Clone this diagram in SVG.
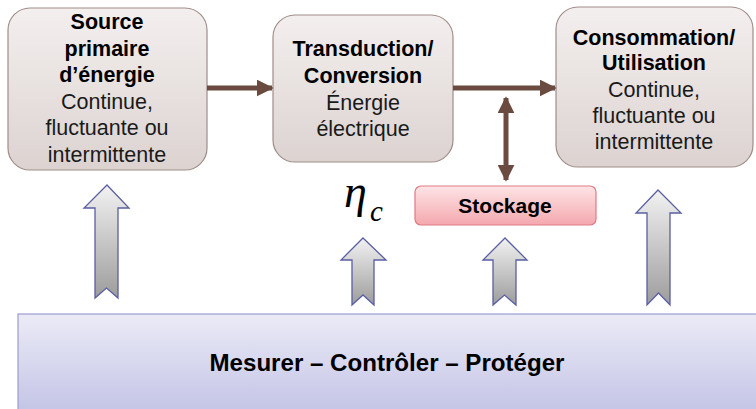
<svg xmlns="http://www.w3.org/2000/svg" width="756" height="409" viewBox="0 0 756 409">
<defs>
<linearGradient id="gBox" x1="0" y1="0" x2="0" y2="1"><stop offset="0" stop-color="#f3efee"/><stop offset="1" stop-color="#dcd3d1"/></linearGradient>
<linearGradient id="gStock" x1="0" y1="0" x2="0" y2="1"><stop offset="0" stop-color="#fde4e6"/><stop offset="1" stop-color="#f4a8ae"/></linearGradient>
<linearGradient id="gUp" x1="0" y1="0" x2="0" y2="1"><stop offset="0" stop-color="#f2f2f2"/><stop offset="1" stop-color="#9c9c9c"/></linearGradient>
<linearGradient id="gPanel" x1="0" y1="0" x2="0" y2="1"><stop offset="0" stop-color="#ebebf7"/><stop offset="1" stop-color="#c3c3e6"/></linearGradient>
<marker id="ah" viewBox="0 0 10 10" refX="9" refY="5" markerWidth="3.4" markerHeight="3.4" orient="auto-start-reverse" markerUnits="strokeWidth"><path d="M0,0 L10,5 L0,10 Z" fill="#6b4a40"/></marker>
</defs>
<style>
.box{fill:url(#gBox);stroke:#a08d89;stroke-width:1.2}
.t{font-family:"Liberation Sans",Arial,sans-serif;font-size:21.5px;fill:#1a1a1a;text-anchor:middle}
.b{font-weight:bold;fill:#000}
.conn{stroke:#6b4a40;stroke-width:5;fill:none}
.up{fill:url(#gUp);stroke:#5a5fa3;stroke-width:1.3}
</style>
<g id="node-source">
<rect class="box" x="8" y="8" width="199" height="162" rx="22"/>
<text class="t b" x="107" y="29">Source</text>
<text class="t b" x="107" y="56">primaire</text>
<text class="t b" x="107" y="82">d’énergie</text>
<text class="t" x="107" y="109">Continue,</text>
<text class="t" x="107" y="135">fluctuante ou</text>
<text class="t" x="107" y="162">intermittente</text>
</g>
<g id="node-transduction">
<rect class="box" x="273" y="15" width="180" height="147" rx="22"/>
<text class="t b" x="363" y="56">Transduction/</text>
<text class="t b" x="363" y="83">Conversion</text>
<text class="t" x="363" y="110">Énergie</text>
<text class="t" x="363" y="136">électrique</text>
</g>
<g id="node-consommation">
<rect class="box" x="556" y="7" width="197" height="160" rx="22"/>
<text class="t b" x="654" y="45">Consommation/</text>
<text class="t b" x="654" y="70">Utilisation</text>
<text class="t" x="654" y="97">Continue,</text>
<text class="t" x="654" y="123">fluctuante ou</text>
<text class="t" x="654" y="149">intermittente</text>
</g>
<g id="node-stockage">
<rect x="415" y="186" width="181" height="39" rx="6" fill="url(#gStock)" stroke="#e07a83" stroke-width="1.2"/>
<text class="t b" x="505" y="213" style="font-size:21px">Stockage</text>
</g>
<g id="node-eta">
<text x="344" y="207" style="font-family:'Liberation Serif','DejaVu Serif',serif;font-style:italic;font-size:46px;fill:#000">η</text>
<text x="370" y="221" style="font-family:'Liberation Serif','DejaVu Serif',serif;font-style:italic;font-size:29px;fill:#000">c</text>
</g>
<g id="node-panel">
<rect x="18" y="314" width="745" height="100" fill="url(#gPanel)" stroke="#9c9cd2" stroke-width="1.2"/>
<text class="t b" x="387" y="371" style="font-size:23px" textLength="355" lengthAdjust="spacingAndGlyphs">Mesurer – Contrôler – Protéger</text>
</g>
<g id="connectors">
<line class="conn" x1="207" y1="88" x2="272" y2="88" marker-end="url(#ah)"/>
<line class="conn" x1="453" y1="88" x2="555" y2="88" marker-end="url(#ah)"/>
<line class="conn" x1="506" y1="98" x2="506" y2="180" marker-start="url(#ah)" marker-end="url(#ah)"/>
<path class="up" d="M107,185 L129,208 L118,208 L118,298 L106.5,288 L95,298 L95,208 L84,208 Z"/>
<path class="up" d="M363,238 L386,260 L374,260 L374,305 L363,295 L352,305 L352,260 L341,260 Z"/>
<path class="up" d="M505,238 L527,260 L516,260 L516,305 L504.5,295 L493,305 L493,260 L483,260 Z"/>
<path class="up" d="M658,190 L681,213 L670,213 L670,305 L658.5,293 L647,305 L647,213 L636,213 Z"/>
</g>
</svg>
